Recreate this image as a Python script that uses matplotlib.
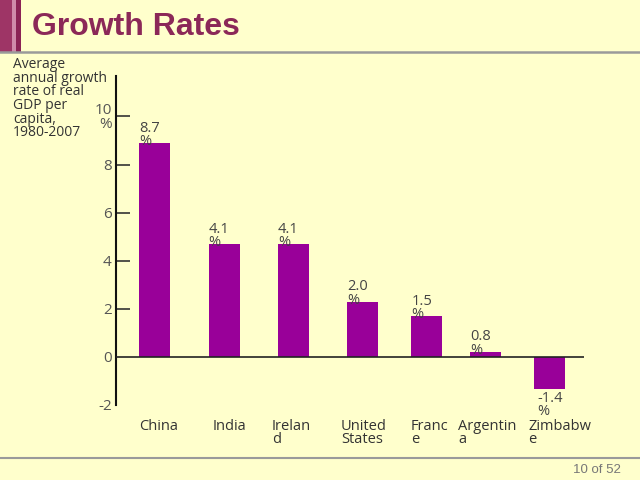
import matplotlib
matplotlib.use("Agg")
import matplotlib.pyplot as plt
from matplotlib.patches import Rectangle
from matplotlib.transforms import blended_transform_factory

# data
countries = ["China", "India", "Ireland", "United States", "France", "Argentina", "Zimbabwe"]
wrapped_names = ["China", "India", "Irelan\nd", "United\nStates", "Franc\ne", "Argentin\na", "Zimbabw\ne"]
growth_labels = ["8.7", "4.1", "4.1", "2.0", "1.5", "0.8", "-1.4"]
# bar heights as drawn against the axis ticks
bar_heights = [8.9, 4.7, 4.7, 2.3, 1.7, 0.22, -1.35]
ytick_values = [-2, 0, 2, 4, 6, 8, 10]
ytick_labels = ["-2", "0", "2", "4", "6", "8", "10\n%"]

# layout: the slide's bars and names are not evenly spaced
slots = [0, 1.057, 2.114, 3.16, 4.14, 5.03, 6.0]
name_left = [-0.236, 0.89, 1.787, 2.836, 3.90, 4.616, 5.68]

bg = "#FFFFCC"
maroon = "#8B2858"
bar_color = "#990099"
text_color = "#444444"
body_font = ["Open Sans", "DejaVu Sans"]

fig = plt.figure(figsize=(6.4, 4.8), dpi=100, facecolor=bg)

# slide decoration
fig.patches.append(Rectangle((0, 1 - 52/480), 12/640, 52/480, transform=fig.transFigure,
                             facecolor="#9E3566", edgecolor="none"))
fig.patches.append(Rectangle((12/640, 1 - 52/480), 4/640, 52/480, transform=fig.transFigure,
                             facecolor="#D08AAA", edgecolor="none"))
fig.patches.append(Rectangle((16/640, 1 - 52/480), 5/640, 52/480, transform=fig.transFigure,
                             facecolor="#8B2255", edgecolor="none"))
fig.lines.append(plt.Line2D([0, 1], [1 - 52/480, 1 - 52/480], transform=fig.transFigure,
                            color="#9A9A9A", lw=1.8))
fig.lines.append(plt.Line2D([0, 1], [1 - 458/480, 1 - 458/480], transform=fig.transFigure,
                            color="#9A9A9A", lw=1.5))
fig.text(32/640, 1 - 27/480, "Growth Rates", fontsize=23, fontweight="bold", color=maroon,
         family="Liberation Sans", va="center", ha="left")
fig.text(621/640, 1 - 470/480, "10 of 52", fontsize=9.5, color="#777777",
         family="Liberation Sans", va="center", ha="right")
fig.text(13/640, 1 - 57/480,
         "Average\nannual growth\nrate of real\nGDP per\ncapita,\n1980-2007",
         fontsize=10, color="#333333", family=body_font, va="top", ha="left", linespacing=0.88)

ax = fig.add_axes([116/640, 1 - 405/480, 468/640, 329/480])
ax.set_facecolor(bg)
width = 0.47
ax.bar(slots, bar_heights, width=width, color=bar_color, zorder=2)
ax.axhline(0, color="#222222", lw=1.2, zorder=3)

ax.set_xlim(-0.586, 6.53)
ax.set_ylim(-1.8, 11.68)
for s in ["top", "right", "bottom"]:
    ax.spines[s].set_visible(False)
ax.spines["left"].set_linewidth(1.5)
ax.spines["left"].set_color("#111111")
ax.set_xticks([])
ax.set_yticks(ytick_values)
ax.set_yticklabels(ytick_labels, fontsize=11, color="#555555", family=body_font, linespacing=0.85)
ax.tick_params(axis="y", direction="in", length=10, width=1.2, color="#333333", pad=3)
for t in ax.yaxis.get_major_ticks()[:2]:
    t.tick1line.set_visible(False)

# value labels
for xi, h, lab in zip(slots, bar_heights, growth_labels):
    if h >= 0:
        ax.annotate(lab + "\n%", xy=(xi - width/2, h), xytext=(0, 16), textcoords="offset points",
                    ha="left", va="top", fontsize=10.5, color=text_color, family=body_font,
                    linespacing=0.85, zorder=4)
    else:
        ax.annotate(lab + "\n%", xy=(xi - width/2 + 0.05, h), xytext=(0, -1), textcoords="offset points",
                    ha="left", va="top", fontsize=10.5, color=text_color, family=body_font,
                    linespacing=0.85, zorder=4)

# category names
trans = blended_transform_factory(ax.transData, fig.transFigure)
for xl, name in zip(name_left, wrapped_names):
    ax.text(xl, 1 - 419/480, name, transform=trans, ha="left", va="top",
            fontsize=10.5, color="#333333", family=body_font,
            linespacing=0.85, clip_on=False)

fig.savefig("out.png", dpi=100, facecolor=bg)
